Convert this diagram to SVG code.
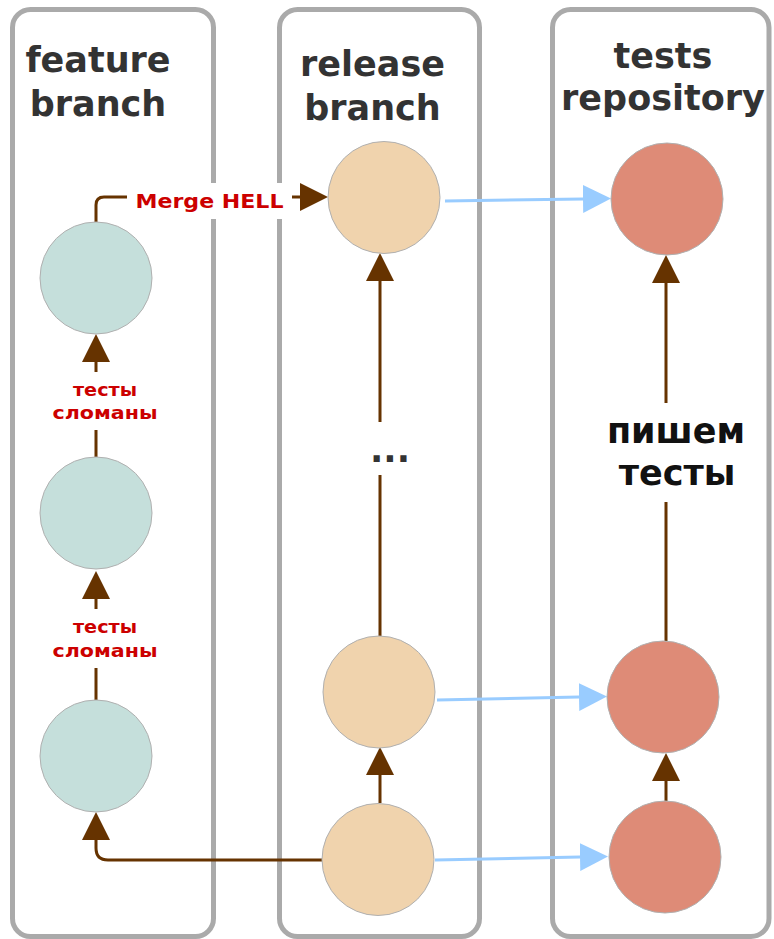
<svg xmlns="http://www.w3.org/2000/svg" width="774" height="939" viewBox="0 0 774 939">
  <defs>
    <style>
      .panel { fill: #ffffff; stroke: #aaaaaa; stroke-width: 5; }
      .title { font-family: "DejaVu Sans", Verdana, sans-serif; font-weight: bold; font-size: 35px; fill: #333333; text-anchor: middle; }
      .red { font-family: "DejaVu Sans", Verdana, sans-serif; font-weight: bold; fill: #cc0000; text-anchor: middle; }
      .feat { fill: #c5dfdb; stroke: #b0b0b0; stroke-width: 1; }
      .rel { fill: #f0d3ad; stroke: #b0b0b0; stroke-width: 1; }
      .test { fill: #de8b77; stroke: #b0b0b0; stroke-width: 1; }
      .brown { fill: none; stroke: #663300; stroke-width: 3; marker-end: url(#ahBrown); }
      .blue { fill: none; stroke: #99ccff; stroke-width: 3; marker-end: url(#ahBlue); }
    </style>
    <marker id="ahBrown" viewBox="0 0 28 28" refX="0" refY="14" markerWidth="28" markerHeight="28" markerUnits="userSpaceOnUse" orient="auto">
      <path d="M0,0 L28,14 L0,28 Z" fill="#663300"/>
    </marker>
    <marker id="ahBlue" viewBox="0 0 28 28" refX="0" refY="14" markerWidth="28" markerHeight="28" markerUnits="userSpaceOnUse" orient="auto">
      <path d="M0,0 L28,14 L0,28 Z" fill="#99ccff"/>
    </marker>
  </defs>
  <rect width="774" height="939" fill="#ffffff"/>

  <g id="panel-feature">
    <rect class="panel" x="12.5" y="9.5" width="201" height="927" rx="18"/>
    <text class="title" x="98" y="72">feature</text>
    <text class="title" x="98" y="116">branch</text>
  </g>
  <g id="panel-release">
    <rect class="panel" x="279.5" y="9.5" width="200" height="927" rx="18"/>
    <text class="title" x="372.5" y="76">release</text>
    <text class="title" x="372.5" y="120">branch</text>
  </g>
  <g id="panel-tests">
    <rect class="panel" x="552.5" y="9.5" width="216.5" height="927" rx="18"/>
    <text class="title" x="663" y="68">tests</text>
    <text class="title" x="663" y="110">repository</text>
  </g>

  <g id="connectors">
    <path class="brown" d="M96,222 V205 Q96,197 104,197 H300"/>
    <path class="brown" d="M96,457 V430 M96,372 V362"/>
    <path class="brown" d="M96,700 V668 M96,609 V599"/>
    <path class="brown" d="M322,860 H108 Q96,860 96,848 V840"/>
    <path class="brown" d="M380,803 V775"/>
    <path class="brown" d="M380,636 V475 M380,422 V281"/>
    <path class="brown" d="M666,801 V781"/>
    <path class="brown" d="M666,641 V502 M666,403 V283"/>
    <path class="blue" d="M445,201 L583,199"/>
    <path class="blue" d="M437,700 L579,697"/>
    <path class="blue" d="M435,860 L580,857"/>
  </g>

  <g id="label-merge">
    <rect x="127" y="183" width="165" height="36" fill="#ffffff"/>
    <text class="red" x="209.5" y="208" font-size="20" textLength="148" lengthAdjust="spacingAndGlyphs">Merge HELL</text>
  </g>
  <g id="label-broken-1">
    <text class="red" x="105" y="396" font-size="18" textLength="64" lengthAdjust="spacingAndGlyphs">тесты</text>
    <text class="red" x="105" y="419" font-size="18" textLength="105" lengthAdjust="spacingAndGlyphs">сломаны</text>
  </g>
  <g id="label-broken-2">
    <text class="red" x="105" y="633" font-size="18" textLength="64" lengthAdjust="spacingAndGlyphs">тесты</text>
    <text class="red" x="105" y="657" font-size="18" textLength="105" lengthAdjust="spacingAndGlyphs">сломаны</text>
  </g>
  <g id="label-dots">
    <text class="title" x="390" y="462">...</text>
  </g>
  <g id="label-write-tests">
    <text class="title" x="676" y="443" fill="#000000" style="fill:#111111">пишем</text>
    <text class="title" x="677" y="485" style="fill:#111111">тесты</text>
  </g>

  <g id="feature-1"><circle class="feat" cx="96" cy="278" r="56"/></g>
  <g id="feature-2"><circle class="feat" cx="96" cy="513" r="56"/></g>
  <g id="feature-3"><circle class="feat" cx="96" cy="756" r="56"/></g>
  <g id="release-1"><circle class="rel" cx="384" cy="197.5" r="56"/></g>
  <g id="release-2"><circle class="rel" cx="379" cy="692" r="56"/></g>
  <g id="release-3"><circle class="rel" cx="378" cy="859.5" r="56"/></g>
  <g id="tests-1"><circle class="test" cx="667" cy="199" r="56"/></g>
  <g id="tests-2"><circle class="test" cx="663" cy="697" r="56"/></g>
  <g id="tests-3"><circle class="test" cx="665" cy="857" r="56"/></g>
</svg>
